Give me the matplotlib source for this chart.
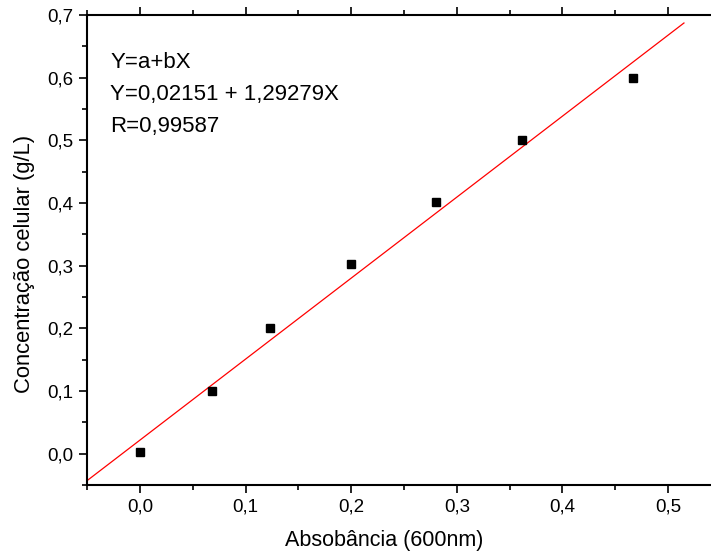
import matplotlib
import matplotlib.pyplot as plt
from matplotlib.ticker import FuncFormatter, MultipleLocator
import numpy as np

matplotlib.use("Agg")

plt.rcParams["font.family"] = ["Liberation Sans", "DejaVu Sans"]

# Measured data points
absorbance = [0.0, 0.068, 0.123, 0.200, 0.280, 0.362, 0.467]
concentration = [0.002, 0.100, 0.200, 0.303, 0.402, 0.501, 0.600]

# Linear fit Y = a + bX
fit_a = 0.02151
fit_b = 1.29279
fit_r = 0.99587
fit_x = np.array([-0.05, 0.515])

fig = plt.figure(figsize=(7.11, 5.57), dpi=100)
ax = fig.add_axes([0.1224, 0.1293, 0.8776, 0.8437])

ax.plot(fit_x, fit_a + fit_b * fit_x, color="red", linewidth=0.9)
ax.plot(absorbance, concentration, "ks", markersize=5.5)

ax.set_xlim(-0.05, 0.5406)
ax.set_ylim(-0.05, 0.7)

comma = FuncFormatter(lambda v, p: f"{v:.1f}".replace(".", ","))
ax.xaxis.set_major_locator(MultipleLocator(0.1))
ax.xaxis.set_minor_locator(MultipleLocator(0.05))
ax.yaxis.set_major_locator(MultipleLocator(0.1))
ax.yaxis.set_minor_locator(MultipleLocator(0.05))
ax.xaxis.set_major_formatter(comma)
ax.yaxis.set_major_formatter(comma)

ax.tick_params(which="both", direction="out", labelsize=13.5, width=1.2, pad=4)
ax.tick_params(which="major", length=6)
ax.tick_params(which="minor", length=3.5)
ax.tick_params(axis="x", which="both", top=True, labeltop=False)
ax.spines["right"].set_visible(False)
for s in ["left", "bottom", "top"]:
    ax.spines[s].set_linewidth(1.5)

ax.set_xlabel("Absobância (600nm)", fontsize=15.5)
ax.set_ylabel("Concentração celular (g/L)", fontsize=15.8)
ax.xaxis.set_label_coords(0.476, -0.095)
ax.yaxis.set_label_coords(-0.084, 0.47)

lines = ["Y=a+bX", "Y=0,02151 + 1,29279X", "R=0,99587"]
for i, line in enumerate(lines):
    ax.text(0.037, 0.898 - 0.068 * i, line, transform=ax.transAxes,
            fontsize=16, va="center", ha="left")

fig.savefig("out.png", dpi=100)
